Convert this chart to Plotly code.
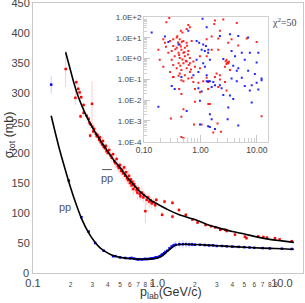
import plotly.graph_objects as go

# ---------------- main panel data ----------------
pbar_curve_p = [0.183, 0.2, 0.213, 0.23, 0.255, 0.28, 0.307, 0.35, 0.392, 0.45, 0.5, 0.565, 0.65, 0.72,
                0.8, 0.9, 1.0, 1.2, 1.5, 2.0, 2.5, 3.0, 4.0, 5.0, 6.0, 8.0, 10.0, 12.5]
pbar_curve_s = [368, 338, 317, 295, 272, 254, 239, 220, 205, 187, 176, 161, 146, 136,
                128, 120, 115, 106, 97, 89, 81, 76, 69, 65, 61, 56, 53.5, 51]

pp_curve_p = [0.14, 0.16, 0.18, 0.2, 0.22, 0.245, 0.28, 0.316, 0.35, 0.4, 0.44, 0.5, 0.6, 0.7, 0.8, 0.9,
              1.0, 1.1, 1.2, 1.3, 1.4, 1.5, 1.7, 2.0, 2.5, 3.0, 4.0, 5.0, 6.0, 8.0, 10.0, 12.5]
pp_curve_s = [262, 213, 175, 143, 117, 91, 67, 51, 41, 33, 29, 26, 24, 23, 23, 23.5,
              25, 29, 36, 42, 46, 47.5, 48, 47.5, 46.5, 45.5, 44, 43, 42, 41, 40.5, 39.5]

pbar_p = [0.183, 0.223, 0.231, 0.237, 0.219, 0.244, 0.255, 0.298, 0.241, 0.255, 0.288,
          0.27, 0.28, 0.285, 0.29, 0.30, 0.305, 0.31, 0.32, 0.325, 0.33, 0.34, 0.345, 0.35, 0.36,
          0.365, 0.37, 0.38, 0.385, 0.39, 0.40, 0.41, 0.42, 0.43, 0.44, 0.45, 0.46, 0.47, 0.48,
          0.49, 0.50, 0.51, 0.52, 0.53, 0.54, 0.55, 0.56, 0.57, 0.58, 0.59, 0.60, 0.61, 0.62,
          0.63, 0.64, 0.65, 0.66, 0.68, 0.69, 0.70, 0.72, 0.73, 0.75, 0.77, 0.78, 0.80, 0.82,
          0.84, 0.86, 0.88, 0.90, 0.93, 0.96,
          0.98, 1.09, 1.14, 1.32, 1.32, 1.49, 1.69, 1.91, 2.1, 2.44, 2.7, 2.92, 3.2, 3.51, 3.6,
          4.2, 5.05, 5.2, 6.45, 7.1, 7.6, 8.8, 9.6, 12.0]
pbar_s = [340, 318, 307, 301, 292, 293, 280, 282, 261, 267, 229,
          262, 257, 250, 248, 244, 236, 240, 232, 228, 230, 222, 226, 218, 214,
          220, 210, 208, 212, 203, 200, 205, 196, 192, 198, 186, 183, 190, 178,
          175, 180, 170, 172, 166, 176, 162, 168, 158, 155, 162, 150, 156, 146,
          152, 140, 148, 144, 138, 134, 141, 132, 128, 134, 126, 130, 103, 122,
          126, 119, 121, 116, 118, 113,
          122, 97, 119, 117, 94, 105, 97, 89, 84, 80, 78, 76, 72, 72, 70,
          64, 60.5, 58, 61, 60, 59, 58, 56, 53]
pbar_e = [30, 5, 8, 5, 12, 5, 4, 38, 4, 5, 4,
          4, 5, 4, 6, 5, 4, 6, 5, 4, 6, 5, 4, 6, 5,
          7, 5, 6, 5, 6, 5, 8, 6, 7, 5, 6, 8, 6, 7,
          9, 6, 8, 7, 10, 6, 8, 7, 9, 6, 10, 8, 7, 9,
          6, 10, 7, 9, 8, 12, 6, 9, 7, 10, 8, 6, 20, 9,
          7, 10, 6, 8, 7, 9,
          4, 4, 4, 4, 4, 4, 3, 3, 3, 3, 3, 3, 3, 3, 3,
          3, 3, 3, 3, 2, 2, 2, 2, 2]

pp_p = [0.14, 0.194, 0.245, 0.28, 0.316, 0.37, 0.44, 0.46, 0.5, 0.55, 0.6, 0.62, 0.65, 0.68, 0.7,
        0.72, 0.75, 0.78, 0.8, 0.82, 0.85, 0.88, 0.9, 0.92, 0.95, 0.97, 1.0, 1.03, 1.05, 1.08,
        1.1, 1.13, 1.16, 1.2, 1.25, 1.3, 1.35, 1.4, 1.5, 1.6, 1.7, 1.8, 1.9, 2.0, 2.2, 2.4,
        2.6, 2.8, 3.0, 3.3, 3.6, 4.0, 4.5, 5.0, 5.5, 6.0, 7.0, 8.0, 10.0, 12.0]
pp_s = [314, 154, 93, 69, 50, 37, 28, 28, 26, 25, 24.5, 25, 24, 23, 22.5,
        23, 22.5, 23, 23.5, 23, 23.5, 24, 24, 24.5, 25, 26, 26, 27, 28, 30,
        31, 33, 35, 37, 41, 44, 46, 47, 48, 48, 48, 47.5, 47.5, 47, 47, 46.5,
        46, 46, 45, 45, 44.5, 44, 43.5, 43, 42.5, 42, 41.5, 41, 40.5, 40]
pp_e = [15, 2, 2, 2, 2, 1, 1, 1, 1, 1, 1, 1, 1, 1, 1,
        1, 1, 1, 1, 1, 1, 1, 1, 1, 1, 1, 1, 1, 1, 1,
        1, 1.5, 1.5, 2, 3, 4, 5, 6, 6, 7, 6, 5, 4, 3, 2, 2,
        2, 1, 1, 1, 1, 1, 1, 1, 1, 1, 1, 1, 1, 1]

x_tickvals = [0.1, 0.2, 0.3, 0.4, 0.5, 0.6, 0.7, 0.8, 0.9, 1.0, 2, 3, 4, 5, 6, 7, 8, 9, 10]
x_ticklabels = ["0.1", "2", "3", "4", "5", "6", "7", "8", "9", "1.0",
                "2", "3", "4", "5", "6", "7", "8", "9", "10.0"]
y_tickvals = [0, 50, 100, 150, 200, 250, 300, 350, 400, 450]
y_ticklabels = ["0", "50", "100", "150", "200", "250", "300", "350", "400", "450"]

# ---------------- inset data ----------------
inset_red_x = [0.28, 0.25, 0.61, 0.65, 0.57, 0.45, 0.48, 0.22, 0.235, 0.245, 0.29, 0.33, 0.38, 0.43,
               0.50, 0.57, 0.70, 0.33, 0.38, 0.43, 0.46, 0.53, 0.61, 0.50, 0.41, 0.31, 0.27, 0.35,
               0.43, 0.53, 0.65, 0.75, 0.65, 0.57, 0.50, 0.41, 0.33, 0.31, 0.38, 0.46, 0.57, 0.43,
               0.53, 0.65, 0.80, 0.98, 0.19, 0.22, 0.18, 0.98, 0.29, 0.33, 0.46, 0.61,
               0.40, 0.45, 0.52, 0.36, 0.42, 0.48, 0.55, 0.60, 0.39, 0.47, 0.58, 0.62, 0.44, 0.68,
               1.81, 1.76, 2.54, 4.4, 2.21, 6.6, 9.9, 1.58, 2.07, 1.29, 3.56, 3.11, 4.68, 1.58,
               2.07, 2.9, 3.11, 2.72, 3.33, 1.93, 2.21, 1.29, 2.8, 3.0, 2.9, 3.2,
               0.33, 0.41, 0.50, 0.70, 0.75, 0.92, 1.12, 1.37, 0.42, 0.46, 0.80, 0.98, 1.37, 0.80,
               0.50, 0.46, 0.30, 0.77, 1.05, 1.47, 0.46, 0.50,
               1.29, 1.81, 2.21, 2.72, 2.07, 2.9, 1.38, 12.1, 2.01, 2.31, 1.69]
inset_red_y = [90, 56, 42, 32, 27, 22, 18, 8.5, 5.8, 3.7, 7.1, 8.5, 10.3, 8.5,
               7.1, 5.8, 7.1, 4.0, 3.3, 4.8, 2.7, 3.3, 2.3, 1.9, 1.9, 2.3, 1.9, 1.3,
               1.07, 1.3, 1.07, 0.73, 0.6, 0.73, 0.6, 0.6, 0.5, 0.88, 0.34, 0.28, 0.34, 0.19,
               0.16, 0.23, 0.41, 0.34, 0.88, 0.41, 2.7, 1.3, 0.23, 0.13, 0.091, 0.11,
               6.0, 3.8, 2.0, 2.8, 1.5, 0.9, 0.8, 1.6, 12, 6.5, 4.2, 0.5, 0.45, 0.3,
               68, 47, 77, 52, 22, 9.2, 6.3, 11.6, 9.2, 8.5, 8.5, 5.8, 4.3, 2.7,
               2.7, 0.88, 0.6, 0.41, 0.28, 0.19, 0.16, 1.3, 0.75, 0.65, 0.55, 0.7,
               0.13, 0.15, 0.081, 0.12, 0.076, 0.07, 0.081, 0.076, 0.035, 0.02, 0.035, 0.024, 0.035, 0.0084,
               0.0037, 0.0016, 0.0013, 0.00067, 0.00067, 0.0065, 0.00017, 0.00015,
               0.12, 0.13, 0.10, 0.076, 0.043, 0.029, 0.0065, 0.0017, 0.00075, 0.0003, 0.00028]

inset_blue_x = [0.137, 1.09, 0.235, 0.27, 0.61, 0.855, 0.95, 1.12, 1.25, 1.05, 1.2, 1.37, 0.855, 1.12,
                1.2, 0.92, 0.75, 1.29, 0.41, 0.46,
                1.29, 3.33, 2.21, 4.68, 7.0, 7.5, 10.6, 5.4, 3.56, 4.1, 6.1, 9.9, 1.38, 1.47, 2.54,
                4.68, 4.4, 3.81, 7.0, 12.1, 9.2,
                0.31, 0.35, 1.29, 1.47, 0.92, 1.05, 0.98, 0.57, 0.18, 0.98, 1.37,
                1.38, 1.69, 1.81, 2.21, 1.58, 2.37, 3.56, 4.4, 5.4, 6.1, 7.5, 8.1, 9.9, 12.1, 10.6,
                2.54, 3.33, 3.81, 8.1, 3.11, 1.47, 1.58, 3.03, 4.68, 1.47, 1.81]
inset_blue_y = [18, 82, 11.6, 6.3, 22, 7.1, 5.8, 4.8, 4.0, 2.7, 2.3, 1.9, 0.88, 0.6,
                0.41, 0.23, 0.16, 0.16, 4.8, 0.13,
                32, 15, 12.4, 12.4, 10.3, 1.9, 1.9, 1.9, 2.3, 1.3, 0.88, 0.65, 2.7, 0.88, 0.95,
                0.34, 0.26, 0.45, 0.26, 0.11, 0.18,
                0.048, 0.035, 0.081, 0.081, 0.038, 0.026, 0.0094, 0.003, 0.0048, 0.00067, 0.00055,
                0.081, 0.076, 0.052, 0.052, 0.043, 0.038, 0.11, 0.081, 0.12, 0.048, 0.029, 0.052, 0.07, 0.091, 0.033,
                0.018, 0.017, 0.0114, 0.0078, 0.0044, 0.0021, 0.0012, 0.0012, 0.0006, 0.00051, 0.00041]

inset_x_tickvals = [0.1, 1, 10]
inset_x_ticklabels = ["0.10", "1.00", "10.00"]
inset_y_tickvals = [1e-4, 1e-3, 1e-2, 1e-1, 1, 10, 100]
inset_y_ticklabels = ["1.0E-4", "1.0E-3", "1.0E-2", "1.0E-1", "1.0E+0", "1.0E+1", "1.0E+2"]

FONT = "Liberation Sans, Arial, sans-serif"
RED = "#ff0000"
BLUE = "#0000ff"
TXT = "#555555"

fig = go.Figure()

fig.add_trace(go.Scatter(
    x=pbar_p, y=pbar_s, mode="markers",
    marker=dict(symbol="square", size=2.5, color=RED, line=dict(width=0)),
    error_y=dict(type="data", array=pbar_e, color="rgba(255,80,80,0.3)", thickness=1, width=0),
    showlegend=False))
fig.add_trace(go.Scatter(
    x=pp_p, y=pp_s, mode="markers",
    marker=dict(symbol="square", size=2.5, color=BLUE, line=dict(width=0)),
    error_y=dict(type="data", array=pp_e, color="rgba(90,90,255,0.3)", thickness=1, width=0),
    showlegend=False))
fig.add_trace(go.Scatter(
    x=pbar_curve_p, y=pbar_curve_s, mode="lines", line=dict(color="black", width=1.6, shape="spline", smoothing=0.8),
    showlegend=False))
fig.add_trace(go.Scatter(
    x=pp_curve_p, y=pp_curve_s, mode="lines", line=dict(color="black", width=1.6, shape="spline", smoothing=0.8),
    showlegend=False))

# inset
fig.add_trace(go.Scatter(
    x=inset_red_x, y=inset_red_y, mode="markers", xaxis="x2", yaxis="y2",
    marker=dict(symbol="square", size=2, color="rgba(255,0,0,0.85)", line=dict(width=0)), showlegend=False))
fig.add_trace(go.Scatter(
    x=inset_blue_x, y=inset_blue_y, mode="markers", xaxis="x2", yaxis="y2",
    marker=dict(symbol="square", size=2, color="rgba(0,0,255,0.85)", line=dict(width=0)), showlegend=False))

def small(t):
    return "<span style='font-size:6.5px'>%s</span>" % t

x_text = [t if t in ("0.1", "1.0", "10.0") else small(t) for t in x_ticklabels]

fig.update_layout(
    width=305, height=303,
    margin=dict(l=33, r=2, t=3, b=30, autoexpand=False),
    paper_bgcolor="white", plot_bgcolor="white",
    font=dict(family=FONT, size=11, color="#444"),
    xaxis=dict(type="log", range=[-1.0001, 1.17], domain=[0, 1], automargin=False,
               tickvals=x_tickvals, ticktext=x_text, ticks="", tickangle=0, ticklabeloverflow="allow",
               showgrid=False, zeroline=False, showline=True, mirror=True,
               linecolor="#c8c8c8", linewidth=1, tickfont=dict(size=11, color="#444")),
    yaxis=dict(range=[-0.05, 450.05], domain=[0, 1], tickvals=y_tickvals[1:], ticktext=y_ticklabels[1:],
               ticks="", automargin=False, ticklabeloverflow="allow",
               showgrid=False, zeroline=False, showline=True, mirror=True,
               linecolor="#c8c8c8", linewidth=1, tickfont=dict(size=11, color="#444")),
    xaxis2=dict(type="log", range=[-1.0001, 1.195], domain=[0.411, 0.870], anchor="y2", automargin=False,
                tickvals=inset_x_tickvals, ticktext=inset_x_ticklabels, tickangle=0,
                ticks="inside", ticklen=7, tickcolor="#c8c8c8",
                minor=dict(ticks="inside", ticklen=4, tickcolor="#d0d0d0", dtick="D1"),
                showgrid=False, zeroline=False, showline=True, mirror=True,
                linecolor="#d0d0d0", linewidth=1, tickfont=dict(size=8.5, color="#444")),
    yaxis2=dict(type="log", range=[-4.001, 2.001], domain=[0.486, 0.948], anchor="x2", automargin=False,
                tickvals=inset_y_tickvals, ticktext=inset_y_ticklabels,
                ticks="inside", ticklen=6, tickcolor="#c8c8c8",
                minor=dict(ticks="inside", ticklen=3, tickcolor="#d0d0d0", dtick="D1"),
                showgrid=False, zeroline=False, showline=True, mirror=True,
                linecolor="#d0d0d0", linewidth=1, tickfont=dict(size=8, color="#444")),
    annotations=[
        dict(text=y_ticklabels[0], xref="paper", yref="y", x=0, y=y_tickvals[0],
             xanchor="right", yanchor="middle", xshift=-2,
             showarrow=False, font=dict(size=11, color="#444")),
        dict(text="σ<sub>tot</sub> (mb)", xref="paper", yref="paper", x=0, y=0.51,
             xanchor="center", yanchor="middle", xshift=-23,
             textangle=-90, showarrow=False, font=dict(size=12.5, color="#333")),
        dict(text="p<sub>lab</sub>(GeV/c)", xref="paper", yref="paper", x=0.51, y=-0.11,
             xanchor="center", yanchor="bottom",
             showarrow=False, font=dict(size=12.5, color="#333")),
        dict(text="pp", xref="paper", yref="paper", x=0.274, y=0.352,
             xanchor="center", yanchor="middle",
             showarrow=False, font=dict(size=11, color=TXT)),
        dict(text="pp", xref="paper", yref="paper", x=0.119, y=0.244,
             xanchor="center", yanchor="middle",
             showarrow=False, font=dict(size=11, color=TXT)),
        dict(text="χ<sup>2</sup>=50", xref="paper", yref="paper", x=0.93, y=0.93,
             xanchor="center", yanchor="middle",
             showarrow=False, font=dict(size=10, color="#444", family="Liberation Serif, serif")),
    ],
    shapes=[
        dict(type="line", xref="paper", yref="paper", x0=0.256, x1=0.292, y0=0.383, y1=0.383,
             line=dict(color=TXT, width=1)),
    ],
)

fig.write_html("out.html", config={"displayModeBar": False},
               post_script="document.body.style.margin='0';document.body.style.padding='0';")
